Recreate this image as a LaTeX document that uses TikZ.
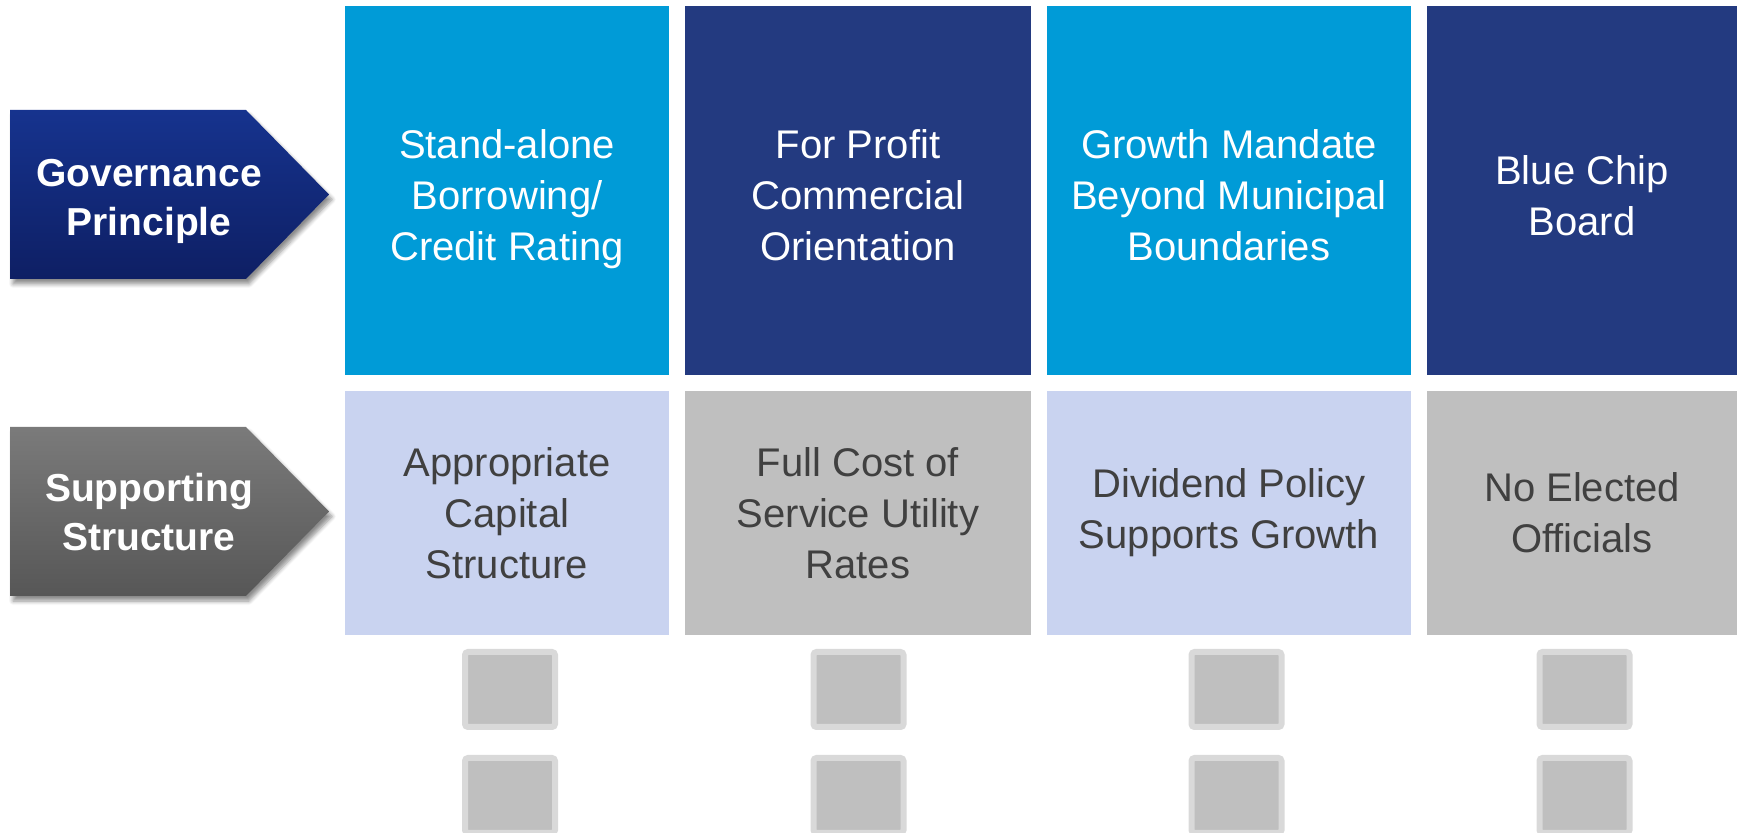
\documentclass[tikz,border=0pt]{standalone}
\usepackage{fontspec}
\setmainfont{Liberation Sans}
\usetikzlibrary{positioning,shadows.blur}

\definecolor{skyblue}{HTML}{009BD7}
\definecolor{navyblue}{HTML}{233A80}
\definecolor{tagblue}{HTML}{16338E}
\definecolor{tagnavy}{HTML}{0E1F64}
\definecolor{lavender}{HTML}{C9D3F0}
\definecolor{midgray}{HTML}{BFBFBF}
\definecolor{lightgray}{HTML}{D9D9D9}
\definecolor{darktext}{HTML}{404040}

\begin{document}
\begin{tikzpicture}[
		x=0.5pt, y=-0.5pt,
		cell/.style={inner sep=0pt, outer sep=0pt, align=center, font=\fontsize{20}{25.5}\selectfont},
		topbox/.style={cell, anchor=north west, minimum height=184.5pt, text depth=-9pt, text height=#1, text=white},
		topbox/.default=70.5pt,
		botbox/.style={cell, minimum height=122pt, text=darktext},
		tagtext/.style={align=center, text=white, font=\fontsize{19.5}{24.5}\selectfont\bfseries},
		tagshadow/.style={blur shadow={shadow xshift=1.5pt, shadow yshift=-2.5pt, shadow blur radius=2pt, shadow blur steps=6, shadow opacity=45}},
		slot/.style={draw=lightgray, fill=midgray, line width=3pt, rounded corners=1.5pt, minimum width=45pt, minimum height=37.5pt, inner sep=0pt},
	]
		\useasboundingbox (0,0) rectangle (1737,833);

		% left tags
		\shade[tagshadow, top color=tagblue, bottom color=tagnavy]
			(10,110) -- (246,110) -- (329,194.5) -- (246,279) -- (10,279) -- cycle;
		\node (gov) [tagtext] at (149,201) {Governance\\Principle};

		\shade[tagshadow, top color=black!52, bottom color=black!66]
			(10,427) -- (246,427) -- (329,511.5) -- (246,596) -- (10,596) -- cycle;
		\node (sup) [tagtext] at (149,512.5) {Supporting\\Structure};

		% governance principles
		\node (gpa) [topbox, fill=skyblue, minimum width=162pt] at (345,6) {Stand-alone\\Borrowing/\\Credit Rating};
		\node (gpb) [topbox, fill=navyblue, minimum width=173pt, right=8pt of gpa] {For Profit\\Commercial\\Orientation};
		\node (gpc) [topbox, fill=skyblue, minimum width=182pt, right=8pt of gpb] {Growth Mandate\\Beyond Municipal\\Boundaries};
		\node (gpd) [topbox=45.5pt, fill=navyblue, minimum width=155pt, right=8pt of gpc] {Blue Chip\\Board};

		% supporting structures
		\node (ssa) [botbox, fill=lavender, minimum width=162pt, below=8pt of gpa] {Appropriate\\Capital\\Structure};
		\node (ssb) [botbox, fill=midgray, minimum width=173pt, below=8pt of gpb] {Full Cost of\\Service Utility\\Rates};
		\node (ssc) [botbox, fill=lavender, minimum width=182pt, below=8pt of gpc] {Dividend Policy\\Supports Growth};
		\node (ssd) [botbox, fill=midgray, minimum width=155pt, below=8pt of gpd] {No Elected\\Officials};

		% placeholders
		\foreach \x/\n in {510/a, 858.5/b, 1236.5/c, 1584.5/d} {
			\node (sq\n1) [slot] at (\x,689.5) {};
			\node (sq\n2) [slot] at (\x,795.5) {};
		}
	\end{tikzpicture}
\end{document}
